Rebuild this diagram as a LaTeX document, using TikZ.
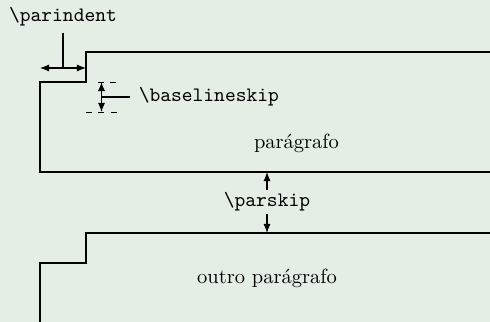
\documentclass[tikz,border=0pt]{standalone}
\usetikzlibrary{arrows.meta}
\definecolor{pagebg}{RGB}{228,238,228}
\begin{document}
\begin{tikzpicture}[x=0.4878pt,y=-0.4878pt,
  outline/.style={line width=0.5pt},
  dim/.style={line width=0.5pt,{Latex[length=4.4pt,width=3.4pt]}-{Latex[length=4.4pt,width=3.4pt]}},
  tip/.style={line width=0.5pt,-{Latex[length=4.4pt,width=3.4pt]}},
  guide/.style={line width=0.4pt,dashed},
  lbl/.style={inner sep=0pt,font=\ttfamily},
  body/.style={inner sep=0pt}]
  \fill[pagebg] (0,0) rectangle (490,322);
  \useasboundingbox (0,0) rectangle (490,322);

  % first paragraph outline
  \draw[outline] (491,52) -- (86,52) -- (86,82) -- (40,82) -- (40,172) -- (491,172);
  % second paragraph outline
  \draw[outline] (491,233) -- (86,233) -- (86,263) -- (40,263) -- (40,323);

  % paragraph texts
  \node[body,anchor=base] (par1) at (296.5,148.3) {parágrafo};
  \node[body,anchor=base] (par2) at (267,284) {outro parágrafo};

  % \parindent
  \coordinate (indL) at (40,68);
  \coordinate (indR) at (86,68);
  \coordinate (indM) at (63,68);
  \node[lbl,anchor=base] (indlbl) at (63,21.7) {\textbackslash parindent};
  \coordinate (indtop) at (63,33);
  \draw[dim] (indL) -- (indR);
  \draw[outline] (indtop) -- (indM);

  % \baselineskip
  \coordinate (blT) at (101.5,82);
  \coordinate (blB) at (101.5,112);
  \coordinate (blM) at (101.5,97);
  \coordinate (blE) at (130,97);
  \draw[guide] (98,82) -- (117,82);
  \draw[guide] (86,112) -- (117,112);
  \draw[dim] (blT) -- (blB);
  \draw[outline] (blM) -- (blE);
  \node[lbl,anchor=base west] (bllbl) at (138.5,101.7) {\textbackslash baselineskip};

  % \parskip
  \coordinate (psT) at (267,172);
  \coordinate (psB) at (267,233);
  \node[lbl,inner sep=1pt] (pslbl) at (267,202) {\textbackslash parskip};
  \draw[tip] (pslbl.north) -- (psT);
  \draw[tip] (pslbl.south) -- (psB);
\end{tikzpicture}
\end{document}
